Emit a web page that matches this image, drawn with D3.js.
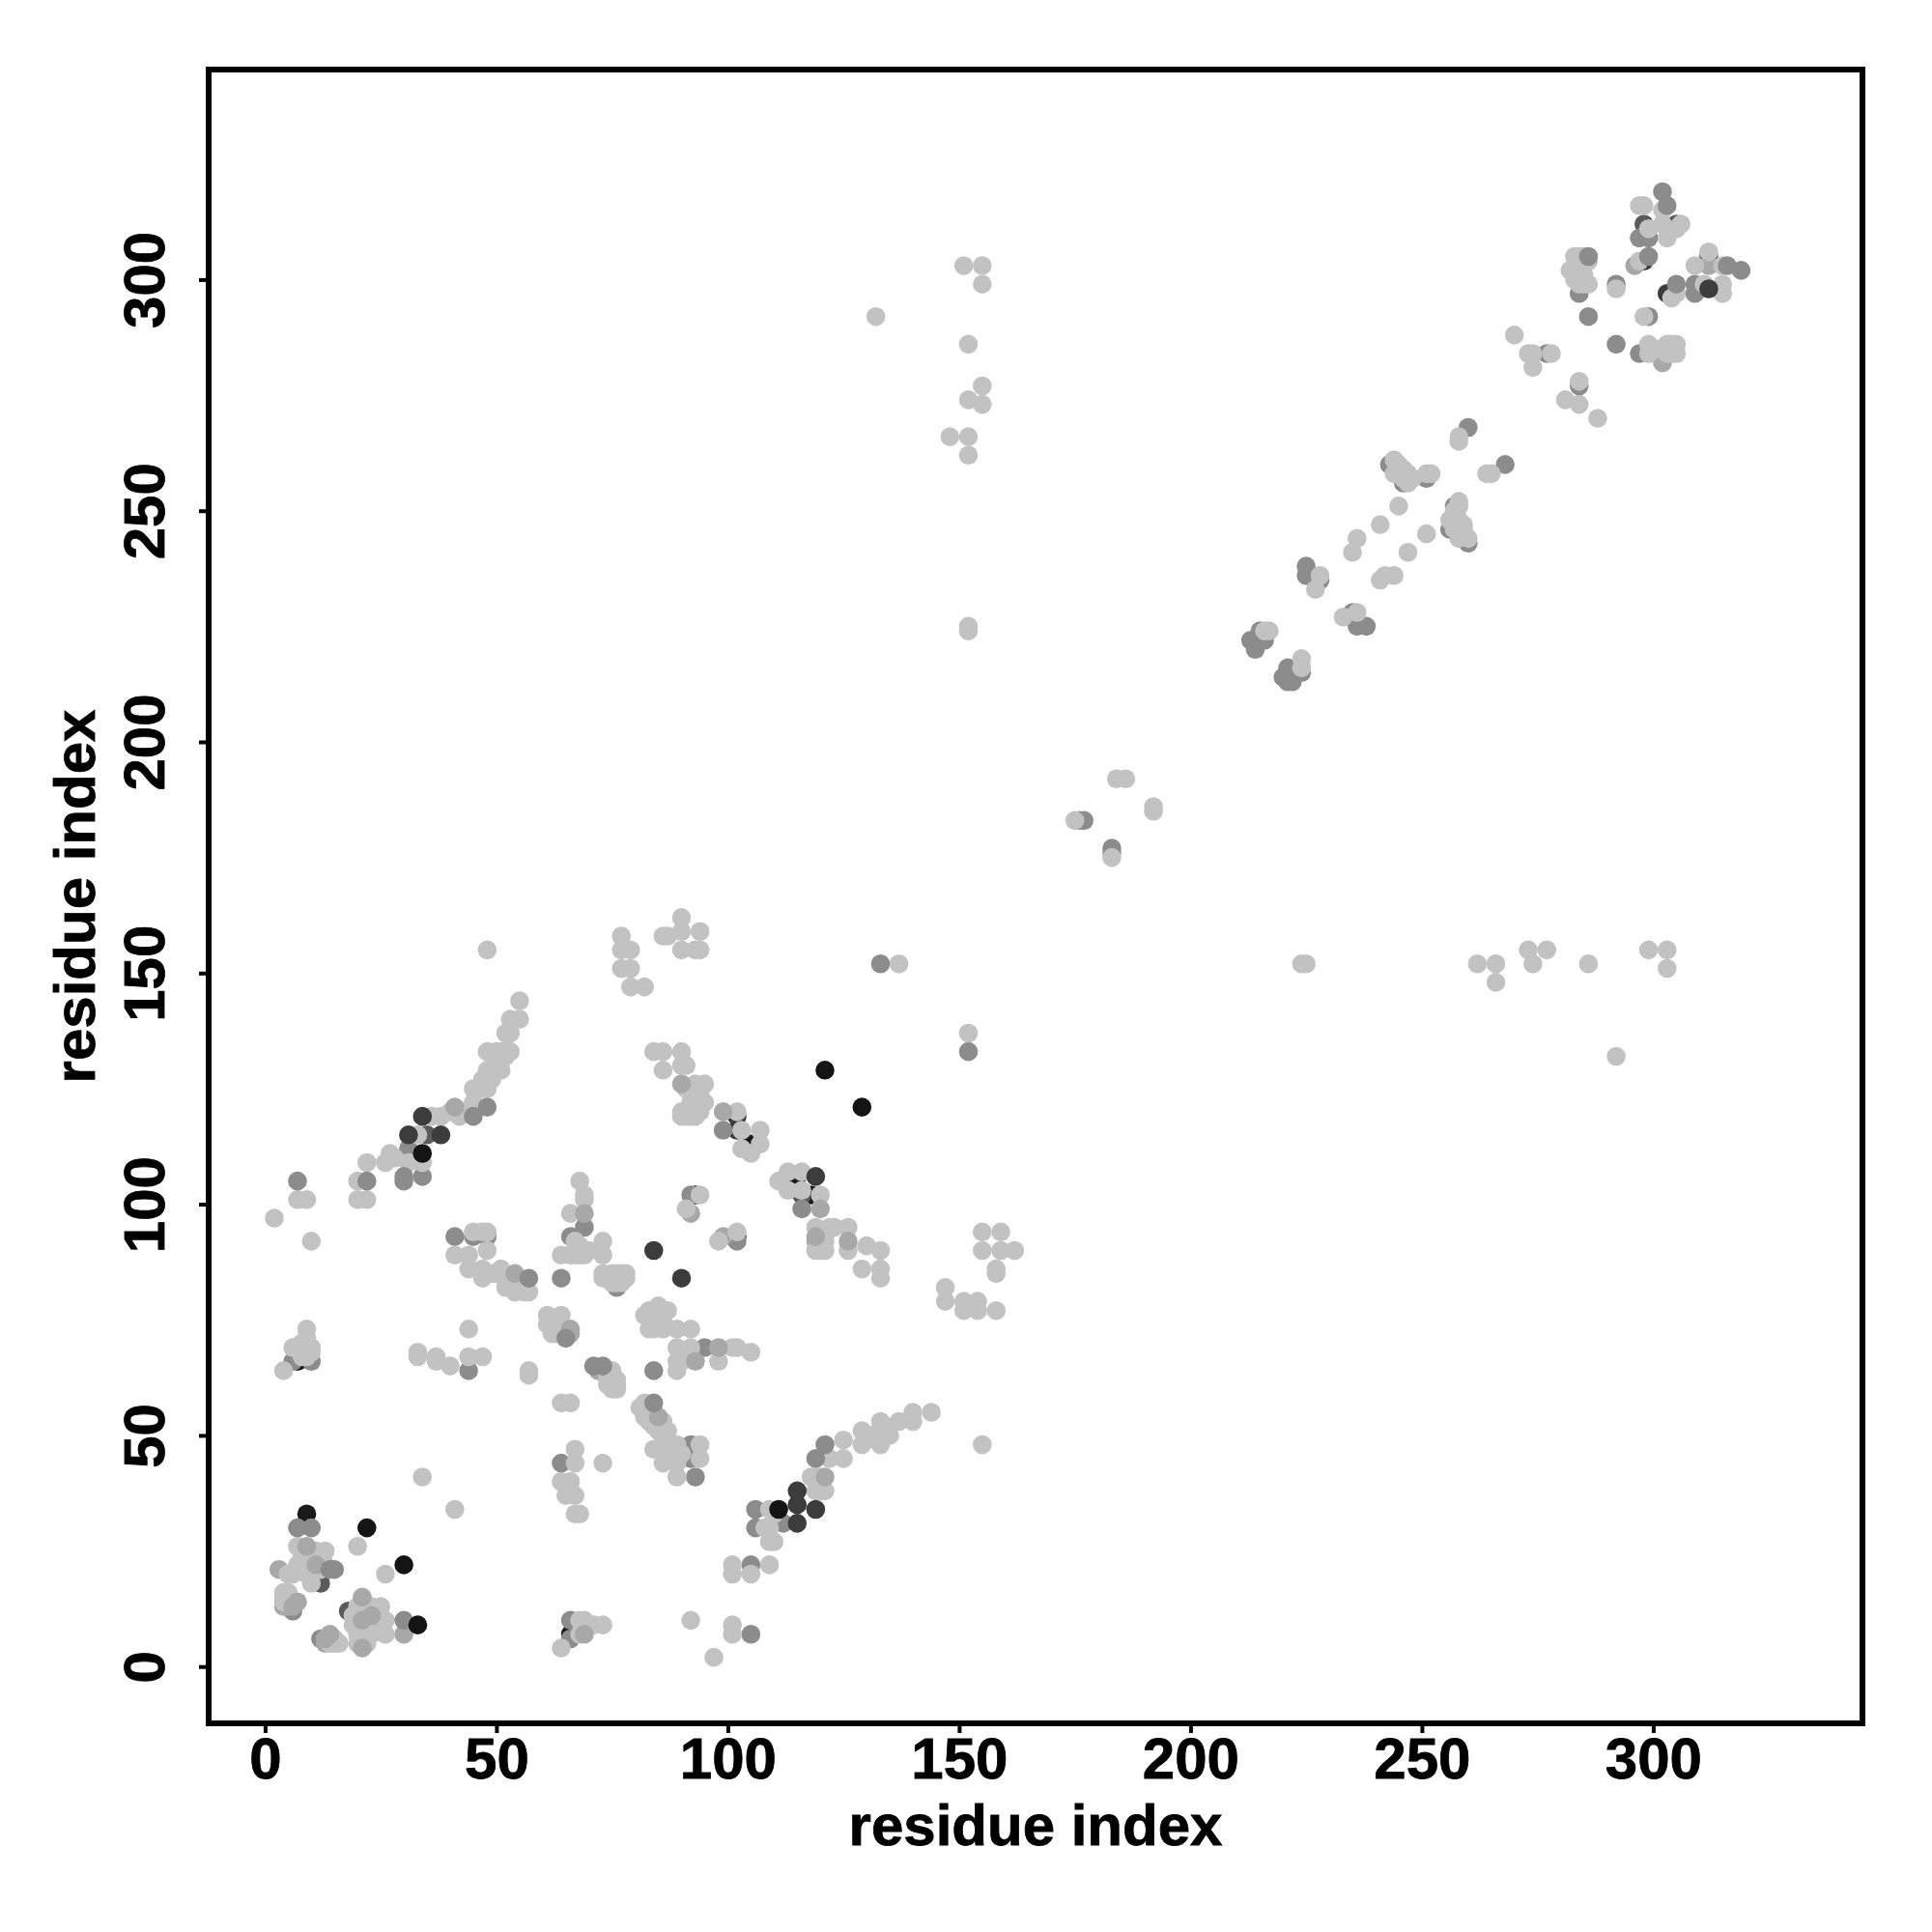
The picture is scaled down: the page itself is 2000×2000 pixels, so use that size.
<!DOCTYPE html>
<html><head><meta charset="utf-8">
<script src="https://cdn.jsdelivr.net/npm/d3@7"></script>
<style>html,body{margin:0;padding:0;background:#fff}svg{display:block}</style>
</head><body><svg id="c" width="2000" height="2000"></svg>
<script>
const tickValues=[0,50,100,150,200,250,300];
const axisTitle="residue index";
// [x residue, y residue], grouped by grey level, painted from first list to last
const blackUnder=[[9,33],[93,102],[102,93],[7,66],[115,106],[118,102],[105,113],[66,7]];
const veryDarkUnder=[[102,119],[9,23],[22,9],[298,304],[303,297],[102,116]];
const darkUnder=[[12,18],[18,12],[298,312],[305,312],[312,305],[116,102],[35,115]];
const midUnder=[[6,12],[12,6],[66,10],[66,6],[64,44],[34,106],[44,64],[6,66],[10,66],
[41,93],[45,93],[48,93],[64,84],[69,95],[66,93],[84,64],[92,48],[92,45],[93,41],[95,69],
[92,102],[102,92],[99,116],[116,99],[106,34],[106,30],[105,22],[105,7],[112,31],[31,112],
[76,82],[133,152],[152,133],[176,183],[177,183],[183,177],[183,176],[215,224],[213,222],[216,222],[214,220],[220,214],[221,216],[224,215],[221,213],[222,213],
[225,238],[225,236],[228,235],[235,228],[236,225],[238,225],[243,260],[246,256],[251,257],[257,251],[256,246],[260,243],[260,268],[268,260],
[284,297],[284,277],[277,284],[286,292],[297,284],[297,309],[299,309],[309,299],[309,297],[292,286],[292,299],[299,292]];
const midLightUnder=[[3,21],[5,13],[4,13],[6,14],[13,5],[22,13],[21,12],[99,93],[119,92],[53,83],[56,82],[84,55],[63,74],[64,73],[65,72],[72,64],[73,64],[296,303],[302,282],[312,303],[92,98]];
const light=[[7,26],[13,25],[11,24],[5,20],[6,20],[10,18],[4,16],[4,14],[20,12],[23,13],[25,13],[19,9],[21,9],[23,7],[26,10],[26,7],[15,5],[14,5],[20,5],[64,4],[68,10],[69,10],[68,7],[71,9],[73,9],
[9,25],[10,24],[11,25],[12,23],[13,22],[12,21],[10,21],[9,20],[8,24],[7,22],[4,15],[5,16],[20,13],[21,13],[21,11],[21,7],[22,6],[22,5],[20,7],[24,11],[25,10],[24,9],[24,8],[19,11],[14,6],[15,6],[16,5],[7,69],[8,68],[9,69],[9,67],[8,67],
[20,26],[26,20],[34,41],[41,34],[67,47],[67,44],[73,44],[64,40],[66,40],[65,37],[67,37],[67,33],[68,33],[64,57],[66,57],[57,64],[57,63],[92,10],[97,2],[101,9],[101,7],[101,22],[101,20],[105,20],[109,22],
[48,155],[55,144],[53,140],[55,140],[52,137],[53,137],[48,133],[52,133],[51,133],[50,133],[53,133],[52,132],[50,130],[49,127],[47,127],[47,125],[48,129],[51,129],[45,125],[48,125],[45,122],[42,119],[38,119],[36,119],[40,120],[43,120],[33,115],[27,111],[26,109],[28,110],[31,109],[34,109],[22,109],[20,105],[20,101],[22,101],[7,101],[9,101],[2,97],[10,92],
[77,158],[77,155],[79,155],[77,151],[79,151],[79,147],[82,147],[86,158],[87,158],[90,162],[90,159],[94,159],[90,155],[93,155],[94,155],
[84,133],[86,133],[90,133],[86,129],[91,130],[90,130],[93,126],[95,126],[94,123],[90,120],[92,119],[94,120],[90,119],[91,125],[92,122],[93,120],[92,124],[94,124],[95,122],[93,119],[91,119],[102,120],[103,116],[107,116],[107,113],[103,112],[105,111],[111,105],[113,107],[113,103],[116,107],[116,103],[120,102],
[119,95],[122,95],[123,95],[126,95],[119,90],[121,90],[120,94],[121,93],[120,90],[121,92],[126,90],[130,91],[133,90],[129,86],[133,86],[133,84],[155,94],[159,94],[155,90],[159,90],[162,90],[158,86],[158,85],[147,82],[147,79],[151,79],[151,77],[154,79],[154,77],[158,77],[152,78],[155,48],
[144,55],[140,55],[140,53],[137,53],[133,53],[133,48],[133,51],[134,52],[132,50],[131,50],[135,50],[130,49],[129,51],[129,48],[125,49],[125,45],[122,45],[119,41],[118,41],[120,41],[120,38],[121,38],[119,38],[109,34],[109,30],[110,27],[108,30],[109,27],[110,33],
[68,105],[69,102],[69,101],[66,98],[64,89],[66,89],[67,89],[68,90],[69,89],[67,90],[68,89],[68,91],[70,90],[67,92],[73,92],[73,89],[73,85],[73,84],[75,85],[76,85],[77,85],[78,85],[78,84],[76,84],[77,84],[77,83],[76,83],[75,83],
[94,102],[91,99],[102,94],[98,92],[47,94],[45,94],[48,94],[41,89],[44,89],[48,90],[44,86],[47,84],[47,86],[51,86],[49,85],[50,85],[52,84],[53,84],[54,83],[55,83],[52,82],[55,82],[57,81],[56,81],[53,82],[54,81],
[44,73],[33,68],[33,67],[37,67],[37,66],[40,65],[44,67],[47,67],[4,64],[9,73],[9,71],[6,69],[8,70],[10,69],[10,68],
[61,76],[64,74],[61,74],[63,72],[62,72],[64,76],[75,63],[76,62],[76,60],[74,62],[74,61],[75,61],[75,60],[76,61],[74,63],[75,64],[82,76],[84,76],[84,77],[85,78],[86,77],[86,76],[83,77],[84,75],[85,75],[86,75],[87,77],[85,76],[84,73],[86,73],[83,73],[89,73],[92,73],[89,69],[89,66],[89,64],[90,68],[90,66],[92,69],[98,66],[101,69],[102,69],[105,68],
[82,57],[81,56],[82,54],[83,55],[84,54],[85,53],[86,53],[83,53],[84,52],[85,51],[87,51],[86,52],[86,50],[84,47],[86,47],[89,48],[94,48],[94,45],[86,44],[89,44],[89,41],[90,46],[89,46],
[132,292],[151,303],[155,303],[155,299],[152,286],[155,277],[152,274],[155,273],[148,266],[152,266],[152,262],[152,225],[152,224],[184,192],[186,192],[192,186],[192,185],[175,183],[183,175],[137,152],[152,137],
[224,152],[225,152],[262,152],[266,152],[266,148],[273,155],[274,152],[277,155],[286,152],[299,155],[303,155],[303,151],[292,132],
[217,224],[216,224],[224,218],[224,216],[228,236],[227,233],[233,227],[236,228],[241,235],[242,236],[244,236],[236,244],[235,241],[241,247],[245,251],[251,245],[247,241],
[244,261],[244,258],[247,258],[247,256],[252,258],[251,258],[245,259],[245,260],[245,258],[246,257],[246,259],[248,257],[258,252],[258,251],[256,248],[258,248],[257,246],[258,244],[260,244],[257,250],[257,248],[259,247],[259,246],[259,245],[258,247],[258,265],[258,266],[265,258],[264,258],
[270,288],[273,284],[274,284],[278,284],[274,281],[284,278],[284,273],[281,274],[288,270],[284,305],[283,305],[285,305],[286,304],[283,302],[284,302],[285,301],[285,299],[282,302],[285,303],[283,300],[284,300],[286,299],[284,299],[292,298],[298,292],
[297,316],[298,316],[302,315],[299,311],[303,309],[302,312],[306,312],[305,311],[297,304],[299,286],[299,284],[303,286],[304,286],[304,284],[304,285],[301,285],[305,284],[305,286],[303,284],[305,297],[304,296],[311,299],[315,297],[315,299],[309,303],[312,306],[315,303]];
const midLightTop=[[7,14],[6,13],[21,15],[21,4],[14,7],[13,6],[9,26],[11,22],[23,11],[21,10],[30,7],[69,7],[66,73],[66,72],[99,120],[120,99],[90,126],[126,92],[119,93],[41,121],[54,85],[85,54],[121,41],[98,69],[69,98],[93,66]];
const midTop=[[10,30],[7,30],[14,21],[15,21],[30,10],[57,84],[48,121],[45,119],[22,105],[30,106],[30,105],[7,105],[121,48],[119,45],[84,57],[65,71],[73,65],[71,65],[286,305],[299,305],[303,316],[305,299],[316,303],[319,302],[302,319]];
const veryDarkTop=[[34,119],[31,115],[38,115],[115,38],[119,34],[115,35],[115,31],[312,298],[90,84],[84,90],[119,106]];
const blackTop=[[22,30],[30,22],[33,9],[34,111],[111,34],[121,129],[129,121]];
const layerData=[blackUnder,veryDarkUnder,darkUnder,midUnder,midLightUnder,light,midLightTop,midTop,veryDarkTop,blackTop];
const layerGrey=["#1a1a1a","#3c3c3c","#5a5a5a","#8c8c8c","#a8a8a8","#c2c2c2","#a8a8a8","#8c8c8c","#3c3c3c","#141414"];

const svg=d3.select("#c");
const L=216,R=1928,T=72,B=1784;
const x=d3.scaleLinear().domain([0,300]).range([274.4,1711.4]);
const y=d3.scaleLinear().domain([0,300]).range([1725.2,289.4]);
const font='"Liberation Sans",Arial,sans-serif';

layerData.forEach((pts,i)=>{
  svg.append("g").selectAll("circle").data(pts).join("circle")
    .attr("cx",d=>x(d[0])).attr("cy",d=>y(d[1])).attr("r",9.8).attr("fill",layerGrey[i]);
});
svg.append("rect").attr("x",L).attr("y",T).attr("width",R-L).attr("height",B-T)
  .attr("fill","none").attr("stroke","#000").attr("stroke-width",6);

function style(g){
  g.select(".domain").remove();
  g.selectAll("line").attr("stroke","#000").attr("stroke-width",4);
  g.selectAll("text").attr("font-family",font).attr("font-weight","bold").attr("font-size",60).attr("fill","#000").attr("stroke","#000").attr("stroke-width",0.8);
}
const gx=svg.append("g").attr("transform",`translate(0,${B})`)
  .call(d3.axisBottom(x).tickValues(tickValues).tickFormat(d3.format("d")).tickSize(10).tickPadding(4));
style(gx);
const gy=svg.append("g").attr("transform",`translate(${L},0)`)
  .call(d3.axisLeft(y).tickValues(tickValues).tickFormat(d3.format("d")).tickSize(10));
style(gy);
gy.selectAll("text").attr("transform","rotate(-90)").attr("x",0).attr("y",-46).attr("dy",0).attr("text-anchor","middle");

svg.append("text").attr("x",(L+R)/2).attr("y",1910).attr("text-anchor","middle")
  .attr("font-family",font).attr("font-weight","bold").attr("font-size",60).attr("stroke","#000").attr("stroke-width",0.8).text(axisTitle);
svg.append("text").attr("transform",`translate(98,${(T+B)/2}) rotate(-90)`).attr("text-anchor","middle")
  .attr("font-family",font).attr("font-weight","bold").attr("font-size",60).attr("stroke","#000").attr("stroke-width",0.8).text(axisTitle);
</script></body></html>
